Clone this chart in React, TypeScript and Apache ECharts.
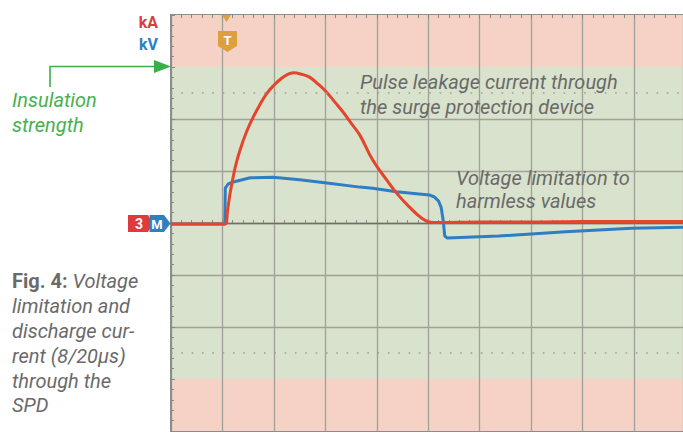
import React, { useEffect, useRef } from "react";
import * as echarts from "echarts";

// x in oscilloscope divisions, y in divisions (0 = centre line)
const currentTime = [0, 1.05, 1.1, 1.15, 1.25, 1.34, 1.47, 1.6, 1.73, 1.86, 2.0, 2.12, 2.25, 2.38, 2.54, 2.7, 2.86, 3.02, 3.18, 3.34, 3.5, 3.67, 3.92, 4.19, 4.38, 4.63, 4.86, 5.02, 5.2, 6.0, 7.0, 8.0, 9.0, 9.95];
const currentValues = [-0.02, -0.02, 0.25, 0.58, 1.08, 1.4, 1.76, 2.04, 2.28, 2.49, 2.65, 2.76, 2.85, 2.89, 2.86, 2.8, 2.67, 2.52, 2.33, 2.14, 1.92, 1.69, 1.21, 0.83, 0.58, 0.31, 0.1, 0.02, 0.01, 0.02, 0.02, 0.03, 0.03, 0.03];
const voltageTime = [0, 1.045, 1.055, 1.11, 1.21, 1.54, 1.98, 2.5, 3.03, 3.67, 3.92, 4.38, 5.02, 5.12, 5.2, 5.25, 5.29, 5.32, 5.37, 6.37, 7.67, 8.95, 9.95];
const voltageValues = [-0.02, -0.02, 0.67, 0.75, 0.79, 0.87, 0.88, 0.83, 0.77, 0.69, 0.67, 0.6, 0.54, 0.5, 0.42, 0.3, 0.05, -0.25, -0.29, -0.25, -0.17, -0.1, -0.08];
const bandColors = ["#f6d2c6", "#d9e2cc", "#d9e2cc", "#d9e2cc", "#d9e2cc", "#d9e2cc", "#d9e2cc", "#f6d2c6"];
const dottedRows = [2.5, -2.5];

const FONT = "Roboto, 'Open Sans', sans-serif";
const GRAY = "#6a6a6a";

export default function App() {
  const ref = useRef<HTMLDivElement>(null);
  useEffect(() => {
    if (!ref.current) return;
    const chart = echarts.init(ref.current, undefined, { renderer: "svg" });
    const zip = (xs: number[], ys: number[]) => xs.map((x, i) => [x, ys[i]]);
    const gridLine = "#a0a297";
    const txt = (text: string, x: number, y: number, extra: any = {}) => ({
      type: "text",
      z: 100,
      style: {
        text,
        x,
        y,
        textVerticalAlign: "top",
        fontFamily: FONT,
        fontSize: 20,
        fontStyle: "italic",
        fontWeight: "normal",
        fill: GRAY,
        ...extra,
      },
    });
    chart.setOption({
      animation: false,
      backgroundColor: "#ffffff",
      grid: {
        left: 171,
        top: 15,
        width: 514,
        height: 416,
        show: true,
        borderColor: "#8c8c8c",
        borderWidth: 2,
        backgroundColor: "transparent",
      },
      xAxis: [
        {
          type: "value",
          min: 0,
          max: 9.95,
          interval: 1,
          axisLabel: { show: false },
          axisLine: { show: true, onZero: true, lineStyle: { color: "#6e6e66", width: 1.3 } },
          axisTick: { show: true, inside: true, length: 4, lineStyle: { color: "#8a8a80" } },
          minorTick: { show: true, splitNumber: 5, length: 3, lineStyle: { color: "#8a8a80" } },
          splitLine: { show: true, lineStyle: { color: gridLine, width: 1.3 } },
        },
        {
          type: "value",
          position: "top",
          min: 0,
          max: 9.95,
          interval: 1,
          axisLabel: { show: false },
          axisLine: { show: false, onZero: false },
          axisTick: { show: true, inside: true, length: 4, lineStyle: { color: "#8a8a80" } },
          minorTick: { show: true, splitNumber: 5, length: 3, lineStyle: { color: "#8a8a80" } },
          splitLine: { show: false },
        },
      ],
      yAxis: {
        type: "value",
        min: -4,
        max: 4,
        interval: 1,
        axisLabel: { show: false },
        axisLine: { show: true, onZero: true, lineStyle: { color: "#8c8c8c", width: 2 } },
        axisTick: { show: true, inside: true, length: 4, lineStyle: { color: "#8a8a80" } },
        minorTick: { show: true, splitNumber: 5, length: 3, lineStyle: { color: "#8a8a80" } },
        splitLine: {
          show: true,
          lineStyle: {
            color: ["transparent", "transparent", gridLine, gridLine, gridLine, gridLine, gridLine, "transparent", "transparent"],
            width: 1.3,
          },
        },
        splitArea: { show: true, areaStyle: { color: bandColors, opacity: 1 } },
      },
      series: [
        {
          name: "kV",
          type: "line",
          xAxisIndex: 0,
          data: zip(voltageTime, voltageValues),
          showSymbol: false,
          smooth: false,
          lineStyle: { color: "#2f7dc2", width: 3 },
          z: 3,
        },
        {
          name: "kA",
          type: "line",
          xAxisIndex: 0,
          data: zip(currentTime, currentValues),
          showSymbol: false,
          smooth: 0.4,
          lineStyle: { color: "#e5452c", width: 3 },
          z: 4,
          markLine: {
            silent: true,
            symbol: "none",
            label: { show: false },
            lineStyle: { type: [1.6, 8.73], color: "#9d9f95", width: 1.6 },
            data: dottedRows.map((v) => ({ yAxis: v })),
          },
        },
      ],
      graphic: [
        // unit labels
        txt("kA", 158, 14, { textAlign: "right", fontSize: 16, fontStyle: "normal", fontWeight: "bold", fill: "#dc3a40" }),
        txt("kV", 158, 36, { textAlign: "right", fontSize: 16, fontStyle: "normal", fontWeight: "bold", fill: "#2b7fc3" }),
        // insulation arrow
        { type: "polyline", z: 100, shape: { points: [[50, 87], [50, 66.5], [157, 66.5]] }, style: { stroke: "#3cae4a", lineWidth: 1.6, fill: "none" } },
        { type: "polygon", z: 100, shape: { points: [[154, 60], [171, 66.5], [154, 73]] }, style: { fill: "#3cae4a" } },
        txt("Insulation\nstrength", 12, 88, { lineHeight: 24.5, fill: "#46b150" }),
        // figure caption
        {
          type: "text",
          z: 100,
          style: {
            x: 12,
            y: 269,
            textVerticalAlign: "top",
            text: "{b|Fig. 4:} {i|Voltage}\n{i|limitation and}\n{i|discharge cur-}\n{i|rent (8/20µs)}\n{i|through the}\n{i|SPD}",
            lineHeight: 24.8,
            fontFamily: FONT,
            fontSize: 20,
            fill: GRAY,
            rich: {
              b: { fontFamily: FONT, fontSize: 20, fontWeight: "bold", fill: GRAY, lineHeight: 24.8 },
              i: { fontFamily: FONT, fontSize: 20, fontStyle: "italic", fontWeight: "normal", fill: GRAY, lineHeight: 24.8 },
            },
          },
        },
        // annotations
        txt("Pulse leakage current through\nthe surge protection device", 360, 70, { lineHeight: 24.5 }),
        txt("Voltage limitation to\nharmless values", 456, 166, { lineHeight: 23.5 }),
        // channel markers
        { type: "polygon", z: 100, shape: { points: [[128, 215], [148, 215], [153, 223.5], [148, 232], [128, 232]] }, style: { fill: "#e03a3c" } },
        txt("3", 139, 224, { textAlign: "center", textVerticalAlign: "middle", fontSize: 14, fontStyle: "normal", fontWeight: "bold", fill: "#ffffff" }),
        { type: "polygon", z: 100, shape: { points: [[149.5, 215], [164, 215], [170.5, 223.5], [164, 232], [149.5, 232]] }, style: { fill: "#2f7fc1" } },
        txt("M", 157, 224, { textAlign: "center", textVerticalAlign: "middle", fontSize: 13, fontStyle: "normal", fontWeight: "bold", fill: "#ffffff" }),
        // trigger marker
        { type: "polygon", z: 100, shape: { points: [[222, 15], [231, 15], [226.5, 22]] }, style: { fill: "#dca13e" } },
        { type: "polygon", z: 100, shape: { points: [[218, 31], [237, 31], [237, 46], [227.5, 52], [218, 46]] }, style: { fill: "#dca13e" } },
        txt("T", 227.5, 40, { textAlign: "center", textVerticalAlign: "middle", fontSize: 13, fontStyle: "normal", fontWeight: "bold", fill: "#ffffff" }),
      ],
    });
    return () => chart.dispose();
  }, []);
  return (
    <div
      ref={ref}
      style={{ position: "absolute", left: 0, top: 0, width: 683, height: 433, background: "#ffffff", overflow: "hidden" }}
    />
  );
}
